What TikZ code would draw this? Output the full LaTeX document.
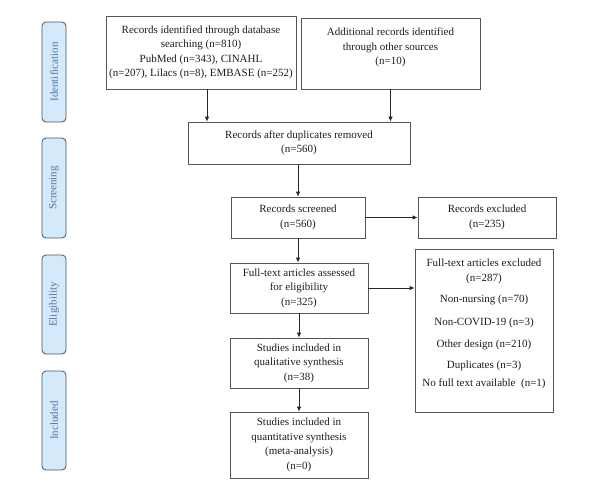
\documentclass[tikz,border=0pt]{standalone}
\usepackage{fontspec}
\setmainfont{Liberation Serif}
\usetikzlibrary{arrows.meta}
\definecolor{sidefill}{HTML}{D4E9FA}
\definecolor{sidedraw}{HTML}{4A5560}
\definecolor{sidetext}{HTML}{4F78A6}
\definecolor{boxdraw}{HTML}{555555}
\definecolor{txtcol}{HTML}{1E1E1E}
\tikzset{
  box/.style={draw=boxdraw, line width=0.8pt, fill=white, inner sep=2pt, align=center,
    font=\fontsize{11}{14.5}\selectfont, text=txtcol},
  txt/.style={inner sep=0pt, align=center, font=\fontsize{11}{14.5}\selectfont, text=txtcol},
  side/.style={draw=sidedraw, line width=0.8pt, fill=sidefill, rounded corners=4pt, rotate=90,
    minimum height=24, font=\fontsize{11}{13}\selectfont, text=sidetext, inner sep=0pt},
  arr/.style={draw=black!85, line width=0.8pt, -{Latex[length=5pt,width=4.5pt]}}
}
\begin{document}
\begin{tikzpicture}[x=1pt,y=-1pt]
\useasboundingbox (0,0) rectangle (594,493);
% sidebars
\node[side, minimum width=100] (sid) at (54,72) {Identification};
\node[side, minimum width=100] (sscr) at (54,188) {Screening};
\node[side, minimum width=99] (selig) at (54,304.5) {Eligibility};
\node[side, minimum width=99] (sincl) at (54,420.5) {Included};
% boxes
\node[box, minimum width=190, minimum height=73] (b1) at (201,52.5)
  {Records identified through database\\searching (n=810)\\PubMed (n=343), CINAHL\\(n=207), Lilacs (n=8), EMBASE (n=252)};
\node[box, minimum width=179, minimum height=71] (b2) at (390.5,53.5) {};
\node[txt, anchor=north] (b2t) at ([yshift=-10pt]b2.north)
  {Additional records identified\\through other sources\\(n=10)};
\node[box, minimum width=222, minimum height=42] (b3) at (299,143)
  {Records after duplicates removed\\(n=560)};
\node[box, minimum width=134, minimum height=41] (scr) at (298,217.5)
  {Records screened\\(n=560)};
\node[box, minimum width=138, minimum height=41] (exc) at (487,217.5)
  {Records excluded\\(n=235)};
\node[box, minimum width=138, minimum height=50] (full) at (299,288)
  {Full-text articles assessed\\for eligibility\\(n=325)};
\node[box, minimum width=138, minimum height=163] (ftex) at (484,330.5) {};
\node[txt, anchor=north] (ftext) at ([yshift=-10.5pt]ftex.north)
  {Full-text articles excluded\\(n=287)\\[7pt]Non-nursing (n=70)\\[8pt]Non-COVID-19 (n=3)\\[7.5pt]Other design (n=210)\\[7pt]Duplicates (n=3)\\[3.5pt]No full text available~ (n=1)};
\node[box, minimum width=138, minimum height=50] (qual) at (299,363)
  {Studies included in\\qualitative synthesis\\(n=38)};
\node[box, minimum width=138, minimum height=66] (quan) at (299,445)
  {Studies included in\\quantitative synthesis\\(meta-analysis)\\(n=0)};
% arrows
\coordinate (a1) at ([xshift=6pt]b1.south);
\draw[arr] (a1) -- (a1 |- b3.north);
\draw[arr] (b2.south) -- (b2.south |- b3.north);
\draw[arr] (scr.north |- b3.south) -- (scr.north);
\draw[arr] (scr.east) -- (exc.west);
\draw[arr] (scr.south) -- (scr.south |- full.north);
\draw[arr] (full.east) -- (full.east -| ftex.west);
\draw[arr] (full.south) -- (qual.north);
\draw[arr] (qual.south) -- (quan.north);
\end{tikzpicture}
\end{document}
